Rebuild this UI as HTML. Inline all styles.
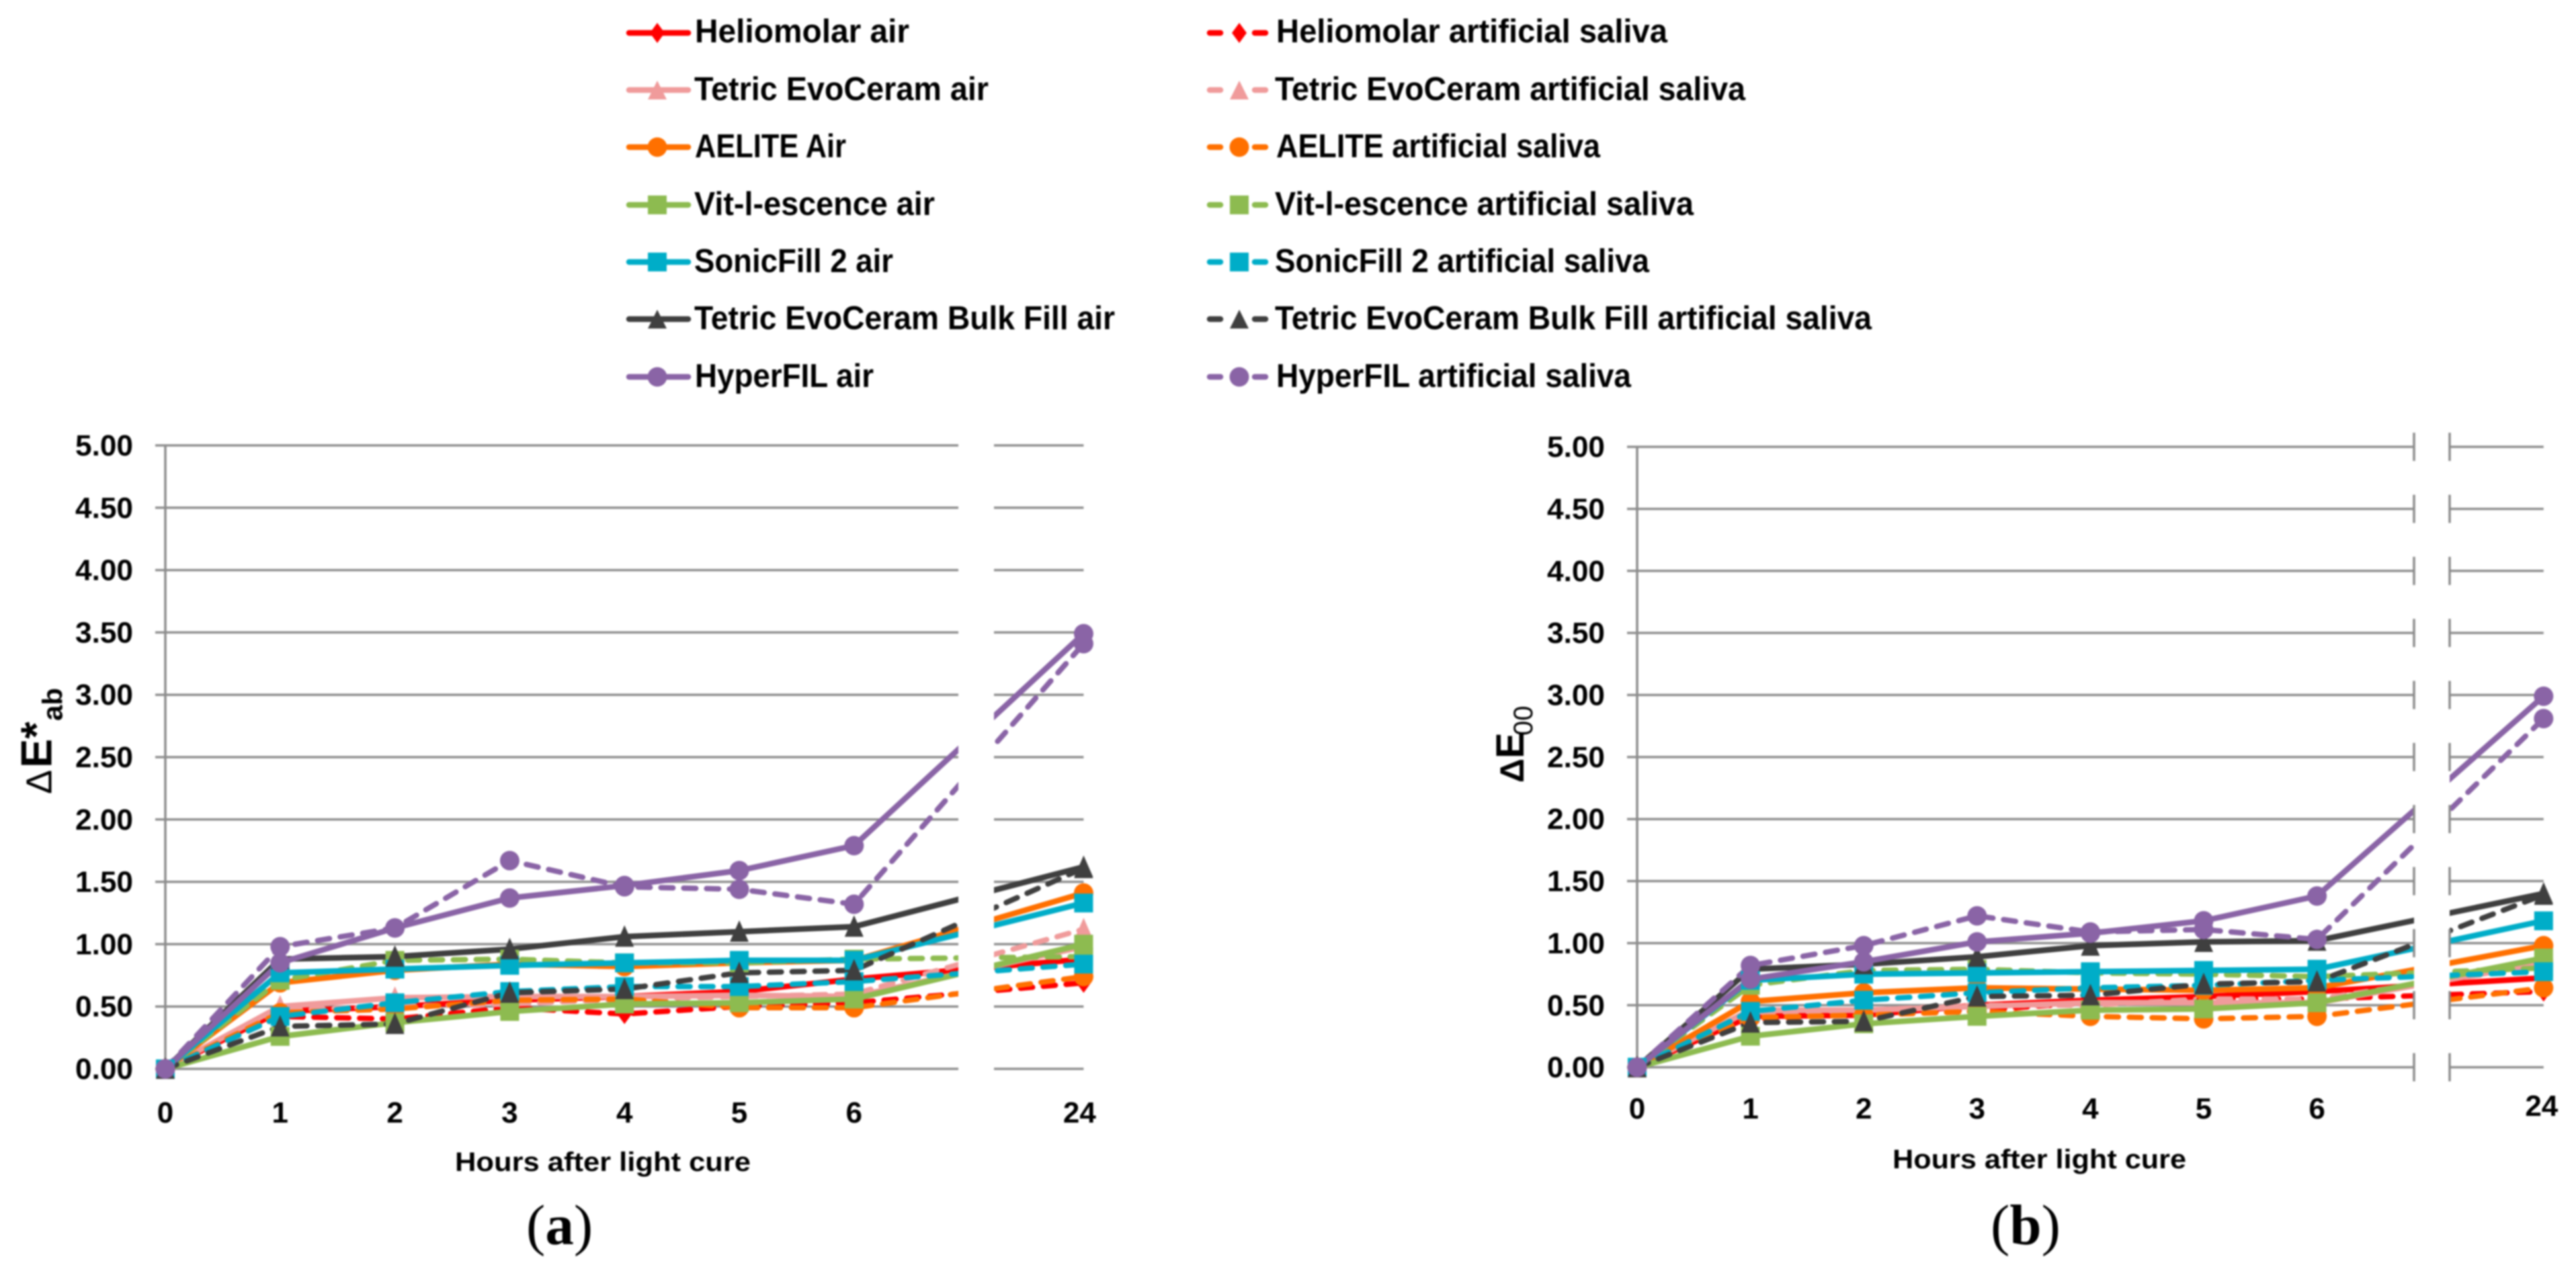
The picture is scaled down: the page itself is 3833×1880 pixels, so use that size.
<!DOCTYPE html>
<html lang="en">
<head>
<meta charset="utf-8">
<title>Colour change after light cure</title>
<style>
html,body{margin:0;padding:0;background:#fff;}
body{width:3833px;height:1880px;overflow:hidden;}
svg{display:block;filter:blur(1.4px);}
text{font-family:"Liberation Sans",sans-serif;font-weight:700;fill:#000;}
</style>
</head>
<body>
<svg id="figure" xmlns="http://www.w3.org/2000/svg" width="3833" height="1880" viewBox="0 0 3833 1880">
<rect x="0" y="0" width="3833" height="1880" fill="#fff"/>

<g id="legend" stroke-linecap="round">
  <g><line x1="936" y1="49" x2="1024" y2="49" stroke="#ff0000" stroke-width="8.5"/><polygon points="978,34 989,49 978,64 967,49" fill="#ff0000"/><text x="1034" y="63" font-size="49" textLength="319" lengthAdjust="spacingAndGlyphs">Heliomolar air</text></g>
  <g><line x1="936" y1="134" x2="1024" y2="134" stroke="#f09b9b" stroke-width="8.5"/><polygon points="978,120 992,148 964,148" fill="#f09b9b"/><text x="1033" y="149" font-size="49" textLength="438" lengthAdjust="spacingAndGlyphs">Tetric EvoCeram air</text></g>
  <g><line x1="936" y1="219" x2="1024" y2="219" stroke="#ff7000" stroke-width="8.5"/><circle cx="978" cy="219" r="14.5" fill="#ff7000"/><text x="1034" y="234" font-size="49" textLength="225" lengthAdjust="spacingAndGlyphs">AELITE Air</text></g>
  <g><line x1="936" y1="305" x2="1024" y2="305" stroke="#8dbb50" stroke-width="8.5"/><rect x="964" y="291" width="28" height="28" fill="#8dbb50"/><text x="1033" y="320" font-size="49" textLength="358" lengthAdjust="spacingAndGlyphs">Vit-l-escence air</text></g>
  <g><line x1="936" y1="390" x2="1024" y2="390" stroke="#00adc8" stroke-width="8.5"/><rect x="964" y="376" width="28" height="28" fill="#00adc8"/><text x="1033" y="405" font-size="49" textLength="296" lengthAdjust="spacingAndGlyphs">SonicFill 2 air</text></g>
  <g><line x1="936" y1="475" x2="1024" y2="475" stroke="#3f3f3f" stroke-width="8.5"/><polygon points="978,461 992,489 964,489" fill="#3f3f3f"/><text x="1033" y="490" font-size="49" textLength="626" lengthAdjust="spacingAndGlyphs">Tetric EvoCeram Bulk Fill air</text></g>
  <g><line x1="936" y1="561" x2="1024" y2="561" stroke="#8a64a6" stroke-width="8.5"/><circle cx="978" cy="561" r="14.5" fill="#8a64a6"/><text x="1034" y="576" font-size="49" textLength="266" lengthAdjust="spacingAndGlyphs">HyperFIL air</text></g>

  <g><path d="M1800 49H1816M1867 49H1883" stroke="#ff0000" stroke-width="8.5"/><polygon points="1844,34 1855,49 1844,64 1833,49" fill="#ff0000"/><text x="1899" y="63" font-size="49" textLength="582" lengthAdjust="spacingAndGlyphs">Heliomolar artificial saliva</text></g>
  <g><path d="M1800 134H1816M1867 134H1883" stroke="#f09b9b" stroke-width="8.5"/><polygon points="1844,120 1858,148 1830,148" fill="#f09b9b"/><text x="1897" y="149" font-size="49" textLength="700" lengthAdjust="spacingAndGlyphs">Tetric EvoCeram artificial saliva</text></g>
  <g><path d="M1800 219H1816M1867 219H1883" stroke="#ff7000" stroke-width="8.5"/><circle cx="1844" cy="219" r="14.5" fill="#ff7000"/><text x="1899" y="234" font-size="49" textLength="482" lengthAdjust="spacingAndGlyphs">AELITE artificial saliva</text></g>
  <g><path d="M1800 305H1816M1867 305H1883" stroke="#8dbb50" stroke-width="8.5"/><rect x="1830" y="291" width="28" height="28" fill="#8dbb50"/><text x="1897" y="320" font-size="49" textLength="623" lengthAdjust="spacingAndGlyphs">Vit-l-escence artificial saliva</text></g>
  <g><path d="M1800 390H1816M1867 390H1883" stroke="#00adc8" stroke-width="8.5"/><rect x="1830" y="376" width="28" height="28" fill="#00adc8"/><text x="1897" y="405" font-size="49" textLength="557" lengthAdjust="spacingAndGlyphs">SonicFill 2 artificial saliva</text></g>
  <g><path d="M1800 475H1816M1867 475H1883" stroke="#3f3f3f" stroke-width="8.5"/><polygon points="1844,461 1858,489 1830,489" fill="#3f3f3f"/><text x="1897" y="490" font-size="49" textLength="888" lengthAdjust="spacingAndGlyphs">Tetric EvoCeram Bulk Fill artificial saliva</text></g>
  <g><path d="M1800 561H1816M1867 561H1883" stroke="#8a64a6" stroke-width="8.5"/><circle cx="1844" cy="561" r="14.5" fill="#8a64a6"/><text x="1899" y="576" font-size="49" textLength="528" lengthAdjust="spacingAndGlyphs">HyperFIL artificial saliva</text></g>
</g>

<g id="panel-a"></g>
<g id="panel-b"></g>

<text transform="translate(76.5,1182) rotate(-90)" font-size="65"><tspan x="0" font-size="54" font-weight="400">Δ</tspan><tspan x="39">E*</tspan><tspan x="109" dy="16" font-size="42">ab</tspan></text>
<text transform="translate(2267,1165) rotate(-90)" font-size="58"><tspan x="0" font-size="50">Δ</tspan><tspan x="36">E</tspan><tspan x="70" dy="13" font-size="40" font-weight="400">00</tspan></text>

<text x="677" y="1743" font-size="40" textLength="440" lengthAdjust="spacingAndGlyphs">Hours after light cure</text>
<text x="2816" y="1739" font-size="40" textLength="437" lengthAdjust="spacingAndGlyphs">Hours after light cure</text>

<text x="783" y="1852" font-size="85" style="font-family:'Liberation Serif',serif;font-weight:400;fill:#000">(<tspan font-weight="700">a</tspan>)</text>
<text x="2962" y="1852" font-size="85" style="font-family:'Liberation Serif',serif;font-weight:400;fill:#000">(<tspan font-weight="700">b</tspan>)</text>
</svg>

<script>
// Shared axis data
const hours = ['0', '1', '2', '3', '4', '5', '6', '24'];
const yTickValues = [0, 0.5, 1, 1.5, 2, 2.5, 3, 3.5, 4, 4.5, 5];
const yTickLabels = ['0.00', '0.50', '1.00', '1.50', '2.00', '2.50', '3.00', '3.50', '4.00', '4.50', '5.00'];

// Panel (a): delta E*ab, one value per hour
const aHeliomolarAir = [0, 0.46, 0.50, 0.55, 0.58, 0.62, 0.72, 0.88];
const aHeliomolarSaliva = [0, 0.42, 0.40, 0.49, 0.44, 0.50, 0.53, 0.69];
const aEvoCeramAir = [0, 0.50, 0.57, 0.58, 0.58, 0.59, 0.58, 0.98];
const aEvoCeramSaliva = [0, 0.47, 0.50, 0.52, 0.56, 0.58, 0.60, 1.12];
const aAeliteAir = [0, 0.69, 0.79, 0.84, 0.82, 0.85, 0.87, 1.41];
const aAeliteSaliva = [0, 0.45, 0.48, 0.55, 0.56, 0.49, 0.49, 0.74];
const aVitAir = [0, 0.26, 0.37, 0.46, 0.52, 0.53, 0.56, 1.00];
const aVitSaliva = [0, 0.71, 0.87, 0.88, 0.85, 0.85, 0.88, 0.90];
const aSonicAir = [0, 0.77, 0.80, 0.83, 0.85, 0.87, 0.87, 1.33];
const aSonicSaliva = [0, 0.42, 0.53, 0.62, 0.66, 0.66, 0.70, 0.84];
const aBulkAir = [0, 0.88, 0.90, 0.96, 1.06, 1.10, 1.14, 1.62];
const aBulkSaliva = [0, 0.34, 0.36, 0.61, 0.64, 0.77, 0.79, 1.61];
const aHyperAir = [0, 0.85, 1.13, 1.37, 1.47, 1.59, 1.79, 3.49];
const aHyperSaliva = [0, 0.98, 1.13, 1.67, 1.46, 1.44, 1.32, 3.41];

// Panel (b): delta E00, one value per hour
const bHeliomolarAir = [0, 0.41, 0.42, 0.50, 0.54, 0.57, 0.61, 0.72];
const bHeliomolarSaliva = [0, 0.39, 0.43, 0.46, 0.52, 0.55, 0.55, 0.61];
const bEvoCeramAir = [0, 0.46, 0.46, 0.49, 0.52, 0.52, 0.52, 0.84];
const bEvoCeramSaliva = [0, 0.44, 0.46, 0.50, 0.50, 0.55, 0.55, 0.82];
const bAeliteAir = [0, 0.53, 0.60, 0.64, 0.63, 0.62, 0.64, 0.98];
const bAeliteSaliva = [0, 0.40, 0.42, 0.45, 0.41, 0.39, 0.41, 0.64];
const bVitAir = [0, 0.25, 0.35, 0.41, 0.46, 0.47, 0.52, 0.88];
const bVitSaliva = [0, 0.66, 0.78, 0.79, 0.76, 0.75, 0.73, 0.80];
const bSonicAir = [0, 0.70, 0.75, 0.76, 0.77, 0.78, 0.79, 1.18];
const bSonicSaliva = [0, 0.45, 0.54, 0.60, 0.64, 0.66, 0.70, 0.77];
const bBulkAir = [0, 0.79, 0.83, 0.89, 0.98, 1.01, 1.02, 1.40];
const bBulkSaliva = [0, 0.36, 0.37, 0.57, 0.58, 0.67, 0.69, 1.39];
const bHyperAir = [0, 0.71, 0.85, 1.01, 1.08, 1.18, 1.38, 2.99];
const bHyperSaliva = [0, 0.82, 0.98, 1.22, 1.09, 1.11, 1.03, 2.81];

const NS = 'http://www.w3.org/2000/svg';
const RED = '#ff0000', PINK = '#f09b9b', ORANGE = '#ff7000', GREEN = '#8dbb50';
const BLUE = '#00adc8', DARK = '#3f3f3f', PURPLE = '#8a64a6';

function make(parent, tag, attrs) {
  const el = document.createElementNS(NS, tag);
  for (const k in attrs) el.setAttribute(k, attrs[k]);
  parent.appendChild(el);
  return el;
}

function drawMarker(group, shape, color, cx, cy) {
  let el;
  if (shape === 'diamond') {
    el = make(group, 'polygon', {points: [cx, cy - 15, cx + 11, cy, cx, cy + 15, cx - 11, cy].join(' '), fill: color});
  } else if (shape === 'triangle') {
    el = make(group, 'polygon', {points: [cx, cy - 17, cx + 14, cy + 15, cx - 14, cy + 15].join(' '), fill: color});
  } else if (shape === 'circle') {
    el = make(group, 'circle', {cx: cx, cy: cy, r: 14.5, fill: color});
  } else {
    el = make(group, 'rect', {x: cx - 14, y: cy - 14, width: 28, height: 28, fill: color});
  }
  
  
}

function drawPanel(opt) {
  const root = document.getElementById(opt.id);
  // Category slots: 0..6 are consecutive, one empty slot, then 24 h
  const xScale = i => opt.x0 + opt.step * (i < 7 ? i : 8);
  const yScale = v => opt.y0 - v * opt.unit;

  const grid = make(root, 'g', {});
  
  
  yTickValues.forEach((v, i) => {
    const y = yScale(v);
    const left = make(grid, 'line', {x1: opt.x0 - 15, y1: y, x2: opt.gapL, y2: y, stroke: '#8f8f8f', 'stroke-width': 3.5});
    
    
    const right = make(grid, 'line', {x1: opt.gapR, y1: y, x2: xScale(7), y2: y, stroke: '#8f8f8f', 'stroke-width': 3.5});
    
    
    const label = make(root, 'text', {x: opt.labelX, y: y + 15, 'font-size': 44, textLength: 86, lengthAdjust: 'spacingAndGlyphs'});
    label.textContent = yTickLabels[i];
    
    
  });
  const axis = make(root, 'line', {x1: opt.x0, y1: yScale(5), x2: opt.x0, y2: yScale(0), stroke: '#8c8c8c', 'stroke-width': 3.5});
  
  

  hours.forEach((h, i) => {
    const lastShift = i === 7 ? opt.lastDx : 0;
    const lastRise = i === 7 ? opt.lastDy : 0;
    const t = make(root, 'text', {x: xScale(i) + lastShift, y: opt.xLabelY + lastRise, 'font-size': 44, 'text-anchor': 'middle'});
    t.textContent = h;
    
    
  });

  opt.series.forEach(s => {
    const pts = s.values.map((v, i) => xScale(i) + ',' + yScale(v)).join(' ');
    const line = make(root, 'polyline', {
      points: pts, fill: 'none', stroke: s.color, 'stroke-linejoin': 'round',
      'stroke-width': s.dashed ? 8 : 8.5,
      'stroke-linecap': s.dashed ? 'round' : 'butt'
    });
    if (s.dashed) line.setAttribute('stroke-dasharray', '18 16');
    
    
  });

  const gap = make(root, 'rect', {x: opt.gapL, y: yScale(5) - 25, width: opt.gapR - opt.gapL, height: opt.unit * 5 + 50, fill: '#fff'});
  
  

  if (opt.breakTicks) {
    yTickValues.forEach(v => {
      [opt.gapL, opt.gapR].forEach(x => {
        const m = make(root, 'line', {x1: x, y1: yScale(v) - 21, x2: x, y2: yScale(v) + 21, stroke: '#8c8c8c', 'stroke-width': 3.5});
        
        
      });
    });
  }

  opt.series.forEach(s => {
    const g = make(root, 'g', {});
    
    
    s.values.forEach((v, i) => drawMarker(g, s.marker, s.color, xScale(i), yScale(v)));
  });
}

function seriesList(d) {
  return [
    {name: 'heliomolar-air', color: RED, marker: 'diamond', dashed: false, values: d[0]},
    {name: 'heliomolar-saliva', color: RED, marker: 'diamond', dashed: true, values: d[1]},
    {name: 'evoceram-air', color: PINK, marker: 'triangle', dashed: false, values: d[2]},
    {name: 'evoceram-saliva', color: PINK, marker: 'triangle', dashed: true, values: d[3]},
    {name: 'aelite-air', color: ORANGE, marker: 'circle', dashed: false, values: d[4]},
    {name: 'aelite-saliva', color: ORANGE, marker: 'circle', dashed: true, values: d[5]},
    {name: 'vit-air', color: GREEN, marker: 'square', dashed: false, values: d[6]},
    {name: 'vit-saliva', color: GREEN, marker: 'square', dashed: true, values: d[7]},
    {name: 'sonicfill-air', color: BLUE, marker: 'square', dashed: false, values: d[8]},
    {name: 'sonicfill-saliva', color: BLUE, marker: 'square', dashed: true, values: d[9]},
    {name: 'bulk-fill-air', color: DARK, marker: 'triangle', dashed: false, values: d[10]},
    {name: 'bulk-fill-saliva', color: DARK, marker: 'triangle', dashed: true, values: d[11]},
    {name: 'hyperfil-air', color: PURPLE, marker: 'circle', dashed: false, values: d[12]},
    {name: 'hyperfil-saliva', color: PURPLE, marker: 'circle', dashed: true, values: d[13]}
  ];
}

drawPanel({
  id: 'panel-a', x0: 246, step: 170.8, y0: 1591, unit: 185.6,
  gapL: 1426, gapR: 1479, labelX: 112, xLabelY: 1671, lastDx: -6, lastDy: 0, breakTicks: false,
  series: seriesList([aHeliomolarAir, aHeliomolarSaliva, aEvoCeramAir, aEvoCeramSaliva, aAeliteAir, aAeliteSaliva, aVitAir, aVitSaliva, aSonicAir, aSonicSaliva, aBulkAir, aBulkSaliva, aHyperAir, aHyperSaliva])
});
drawPanel({
  id: 'panel-b', x0: 2436, step: 168.6, y0: 1588.6, unit: 184.7,
  gapL: 3592, gapR: 3645, labelX: 2302, xLabelY: 1665, lastDx: -3, lastDy: -4, breakTicks: true,
  series: seriesList([bHeliomolarAir, bHeliomolarSaliva, bEvoCeramAir, bEvoCeramSaliva, bAeliteAir, bAeliteSaliva, bVitAir, bVitSaliva, bSonicAir, bSonicSaliva, bBulkAir, bBulkSaliva, bHyperAir, bHyperSaliva])
});
</script>
</body>
</html>
